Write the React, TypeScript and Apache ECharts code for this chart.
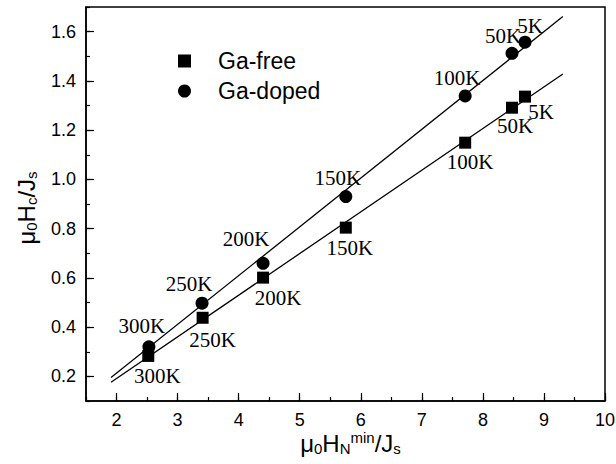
import React, { useEffect, useRef } from "react";
import * as echarts from "echarts";

const temps = ["300K", "250K", "200K", "150K", "100K", "50K", "5K"];
const gaFreeX = [2.52, 3.41, 4.4, 5.755, 7.71, 8.477, 8.69];
const gaFreeY = [0.283, 0.438, 0.601, 0.804, 1.149, 1.291, 1.336];
const gaDopedX = [2.53, 3.4, 4.4, 5.755, 7.71, 8.477, 8.69];
const gaDopedY = [0.32, 0.497, 0.659, 0.93, 1.339, 1.512, 1.557];
const fitFreeX = [1.91, 9.31];
const fitFreeY = [0.176, 1.428];
const fitDopedX = [1.91, 9.31];
const fitDopedY = [0.195, 1.661];

// label placement offsets (layout only)
const freeLabelOffsets = [[9, 20], [10, 22], [15, 20], [4, 20], [5, 19], [3, 18], [16, 15]];
const dopedLabelOffsets = [[-7, -21], [-13, -19], [-17, -24], [-8, -19], [-8, -18], [-9, -17], [5, -16]];

const SANS = "'Liberation Sans', Arial, sans-serif";
const SERIF = "'Liberation Serif', 'Times New Roman', serif";

function pts(xs: number[], ys: number[], offsets: number[][] | null) {
  return xs.map((x, i) => {
    const item: any = { value: [x, ys[i]], name: temps[i] };
    if (offsets) {
      item.label = { offset: offsets[i] };
    }
    return item;
  });
}

const nameRich = {
  a: { fontSize: 24, lineHeight: 26, verticalAlign: "middle", fontFamily: SANS, color: "#000" },
  s: { fontSize: 15, lineHeight: 10, verticalAlign: "bottom", fontFamily: SANS, color: "#000" },
  p: { fontSize: 15, lineHeight: 10, verticalAlign: "top", fontFamily: SANS, color: "#000" },
};

export default function App() {
  const ref = useRef<HTMLDivElement>(null);
  useEffect(() => {
    if (!ref.current) return;
    const chart = echarts.init(ref.current, null, { renderer: "svg" });
    const labelStyle = {
      show: true,
      position: "inside",
      formatter: (p: any) => p.name,
      fontFamily: SERIF,
      fontSize: 21,
      color: "#000",
      opacity: 1,
    };
    chart.setOption({
      animation: false,
      backgroundColor: "#fff",
      grid: {
        left: 86,
        right: 11,
        top: 7,
        bottom: 63,
        show: true,
        borderColor: "#000",
        borderWidth: 1.5,
        containLabel: false,
        outerBoundsMode: "none",
      },
      legend: {
        orient: "vertical",
        left: 173,
        top: 43,
        itemWidth: 13,
        itemHeight: 13,
        itemGap: 4,
        data: [
          { name: "Ga-free", icon: "rect" },
          { name: "Ga-doped", icon: "circle" },
        ],
        itemStyle: { opacity: 1 },
        textStyle: {
          fontFamily: SANS,
          fontSize: 23,
          color: "#000",
          lineHeight: 26,
          padding: [0, 0, 0, 22],
        },
      },
      xAxis: [
        {
          type: "value",
          min: 1.5,
          max: 10,
          interval: 0.5,
          position: "bottom",
          axisLine: { show: true, lineStyle: { color: "#000", width: 1.5 } },
          axisTick: { show: true, inside: true, length: 4, lineStyle: { color: "#000", width: 1.2 } },
          axisLabel: { show: false },
          splitLine: { show: false },
        },
        {
          type: "value",
          min: 1.5,
          max: 10,
          splitNumber: 8,
          position: "bottom",
          axisLine: { show: false },
          axisTick: { show: true, inside: true, length: 8, lineStyle: { color: "#000", width: 1.2 } },
          axisLabel: {
            show: true,
            margin: 10,
            showMinLabel: false,
            fontFamily: SANS,
            fontSize: 18,
            color: "#000",
            formatter: (v: number) => (Math.abs(v - Math.round(v)) < 1e-6 ? String(Math.round(v)) : ""),
          },
          splitLine: { show: false },
          name: "{a|μ}{s|0}{a|H}{s|N}{p|min}{a|/J}{s|s}",
          nameLocation: "middle",
          nameGap: 29,
          nameMoveOverlap: false,
          nameTextStyle: { rich: nameRich, padding: [0, 0, 0, 10] },
        },
      ],
      yAxis: [
        {
          type: "value",
          min: 0.1,
          max: 1.7,
          interval: 0.1,
          position: "left",
          axisLine: { show: true, lineStyle: { color: "#000", width: 1.5 } },
          axisTick: { show: true, inside: true, length: 4, lineStyle: { color: "#000", width: 1.2 } },
          axisLabel: { show: false },
          splitLine: { show: false },
        },
        {
          type: "value",
          min: 0.1,
          max: 1.7,
          splitNumber: 8,
          position: "left",
          axisLine: { show: false },
          axisTick: { show: true, inside: true, length: 8, lineStyle: { color: "#000", width: 1.2 } },
          axisLabel: {
            show: true,
            margin: 10,
            showMinLabel: false,
            showMaxLabel: false,
            fontFamily: SANS,
            fontSize: 18,
            color: "#000",
            formatter: (v: number) => {
              const t = Math.round(v * 10);
              return t % 2 === 0 && t >= 2 && t <= 16 ? (t / 10).toFixed(1) : "";
            },
          },
          splitLine: { show: false },
          name: "{a|μ}{s|0}{a|H}{s|c}{a|/J}{s|s}",
          nameLocation: "middle",
          nameRotate: 90,
          nameGap: 47,
          nameMoveOverlap: false,
          nameTextStyle: { rich: nameRich, padding: [0, 8, 0, 0] },
        },
      ],
      series: [
        {
          name: "Ga-free fit",
          type: "line",
          data: fitFreeX.map((x, i) => [x, fitFreeY[i]]),
          showSymbol: false,
          symbol: "none",
          lineStyle: { color: "#000", width: 1.3 },
          silent: true,
        },
        {
          name: "Ga-doped fit",
          type: "line",
          data: fitDopedX.map((x, i) => [x, fitDopedY[i]]),
          showSymbol: false,
          symbol: "none",
          lineStyle: { color: "#000", width: 1.3 },
          silent: true,
        },
        {
          name: "Ga-free",
          type: "scatter",
          symbol: "rect",
          symbolSize: 12,
          itemStyle: { color: "#000", opacity: 1 },
          label: labelStyle,
          data: pts(gaFreeX, gaFreeY, freeLabelOffsets),
          z: 3,
        },
        {
          name: "Ga-doped",
          type: "scatter",
          symbol: "circle",
          symbolSize: 13,
          itemStyle: { color: "#000", opacity: 1 },
          label: labelStyle,
          data: pts(gaDopedX, gaDopedY, dopedLabelOffsets),
          z: 3,
        },
      ],
    });
    return () => chart.dispose();
  }, []);
  return (
    <div
      ref={ref}
      style={{ position: "fixed", left: 0, top: 0, width: 616, height: 464, background: "#fff" }}
    />
  );
}
